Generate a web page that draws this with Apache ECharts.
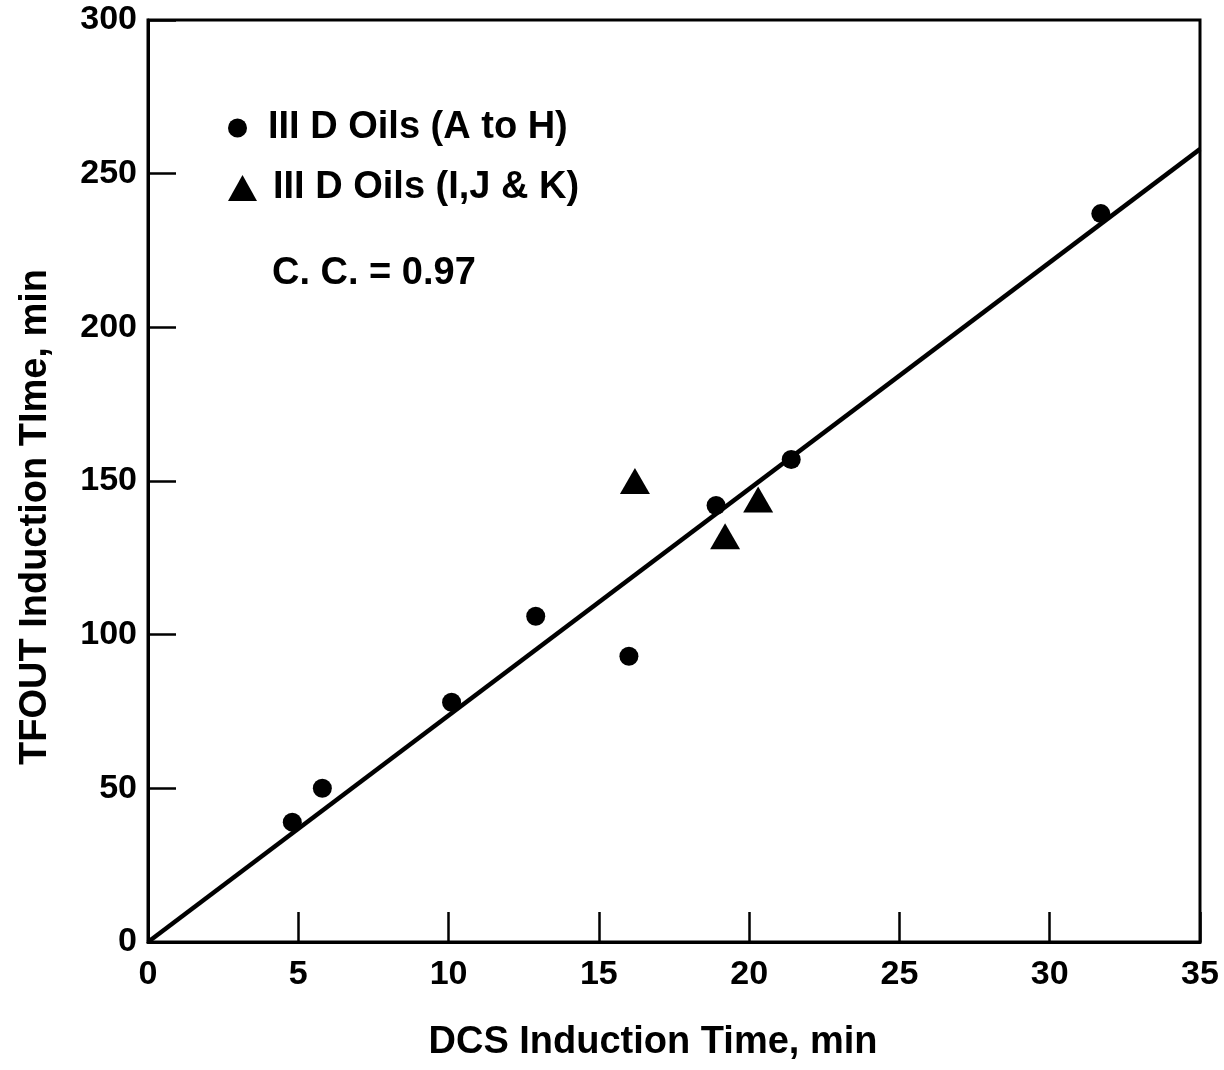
<!DOCTYPE html>
<html>
<head>
<meta charset="utf-8">
<title>TFOUT vs DCS Induction Time</title>
<script src="https://cdn.jsdelivr.net/npm/echarts@6/dist/echarts.min.js"></script>
<style>
  html, body { margin: 0; padding: 0; background: #fff; }
  #chart { width: 1224px; height: 1070px; }
</style>
</head>
<body>
<div id="chart"></div>
<script>
// III D oils A to H (circles)
const circleX = [4.8, 5.8, 10.1, 12.9, 16.0, 18.9, 21.4, 31.7];
const circleY = [39, 50, 78, 106, 93, 142, 157, 237];
// III D oils I, J & K (triangles)
const triX = [16.2, 19.2, 20.3];
const triY = [150, 132, 144];
// fitted line end points
const fitX = [0, 35];
const fitY = [0, 258];

const nameA = 'III D Oils (A to H)';
const nameB = 'III D Oils (I,J & K)';
const font = '"Liberation Sans", Arial, Helvetica, sans-serif';

const zip = (xs, ys) => xs.map((x, i) => [x, ys[i]]);

const chart = echarts.init(document.getElementById('chart'));

const legendBase = {
  orient: 'vertical',
  left: 228,
  padding: 0,
  itemWidth: 29,
  textStyle: {
    color: '#000',
    fontFamily: font,
    fontWeight: 'bold',
    fontSize: 38,
    padding: [0, 0, 0, 11]
  }
};

const option = {
  backgroundColor: '#fff',
  animation: false,
  grid: {
    left: 148, right: 24, top: 20, bottom: 128,
    show: true,
    borderColor: '#000',
    borderWidth: 3
  },
  legend: [
    Object.assign({}, legendBase, { top: 109, itemHeight: 19, data: [nameA] }),
    Object.assign({}, legendBase, { top: 169, itemHeight: 26, data: [nameB] })
  ],
  xAxis: {
    type: 'value',
    min: 0, max: 35, interval: 5,
    splitLine: { show: false },
    axisLine: { lineStyle: { color: '#000', width: 3 } },
    axisTick: { inside: true, length: 30, lineStyle: { color: '#000', width: 2.5 } },
    axisLabel: {
      color: '#000', fontFamily: font, fontWeight: 'bold', fontSize: 34, margin: 16
    }
  },
  yAxis: {
    type: 'value',
    min: 0, max: 300, interval: 50,
    splitLine: { show: false },
    axisLine: { lineStyle: { color: '#000', width: 3 } },
    axisTick: { inside: true, length: 28, lineStyle: { color: '#000', width: 2.5 } },
    axisLabel: {
      color: '#000', fontFamily: font, fontWeight: 'bold', fontSize: 34, margin: 11
    }
  },
  graphic: [
    {
      type: 'text',
      left: 272, top: 255,
      style: {
        text: 'C. C. = 0.97',
        fill: '#000',
        font: 'bold 38px ' + font
      }
    },
    {
      type: 'text',
      x: 653, y: 1043,
      style: {
        text: 'DCS Induction Time, min',
        fill: '#000',
        font: 'bold 38px ' + font,
        align: 'center',
        verticalAlign: 'middle'
      }
    },
    {
      type: 'text',
      x: 36, y: 517,
      rotation: Math.PI / 2,
      style: {
        text: 'TFOUT Induction TIme, min',
        fill: '#000',
        font: 'bold 38px ' + font,
        align: 'center',
        verticalAlign: 'middle'
      }
    }
  ],
  series: [
    {
      name: 'fit',
      type: 'line',
      data: zip(fitX, fitY),
      showSymbol: false,
      lineStyle: { color: '#000', width: 4.5 },
      z: 1
    },
    {
      name: nameA,
      type: 'scatter',
      data: zip(circleX, circleY),
      symbol: 'circle',
      symbolSize: 19,
      itemStyle: { color: '#000', opacity: 1 },
      z: 3
    },
    {
      name: nameB,
      type: 'scatter',
      data: zip(triX, triY),
      symbol: 'triangle',
      symbolSize: [30, 26],
      itemStyle: { color: '#000', opacity: 1 },
      z: 3
    }
  ]
};

chart.setOption(option);
</script>
</body>
</html>
